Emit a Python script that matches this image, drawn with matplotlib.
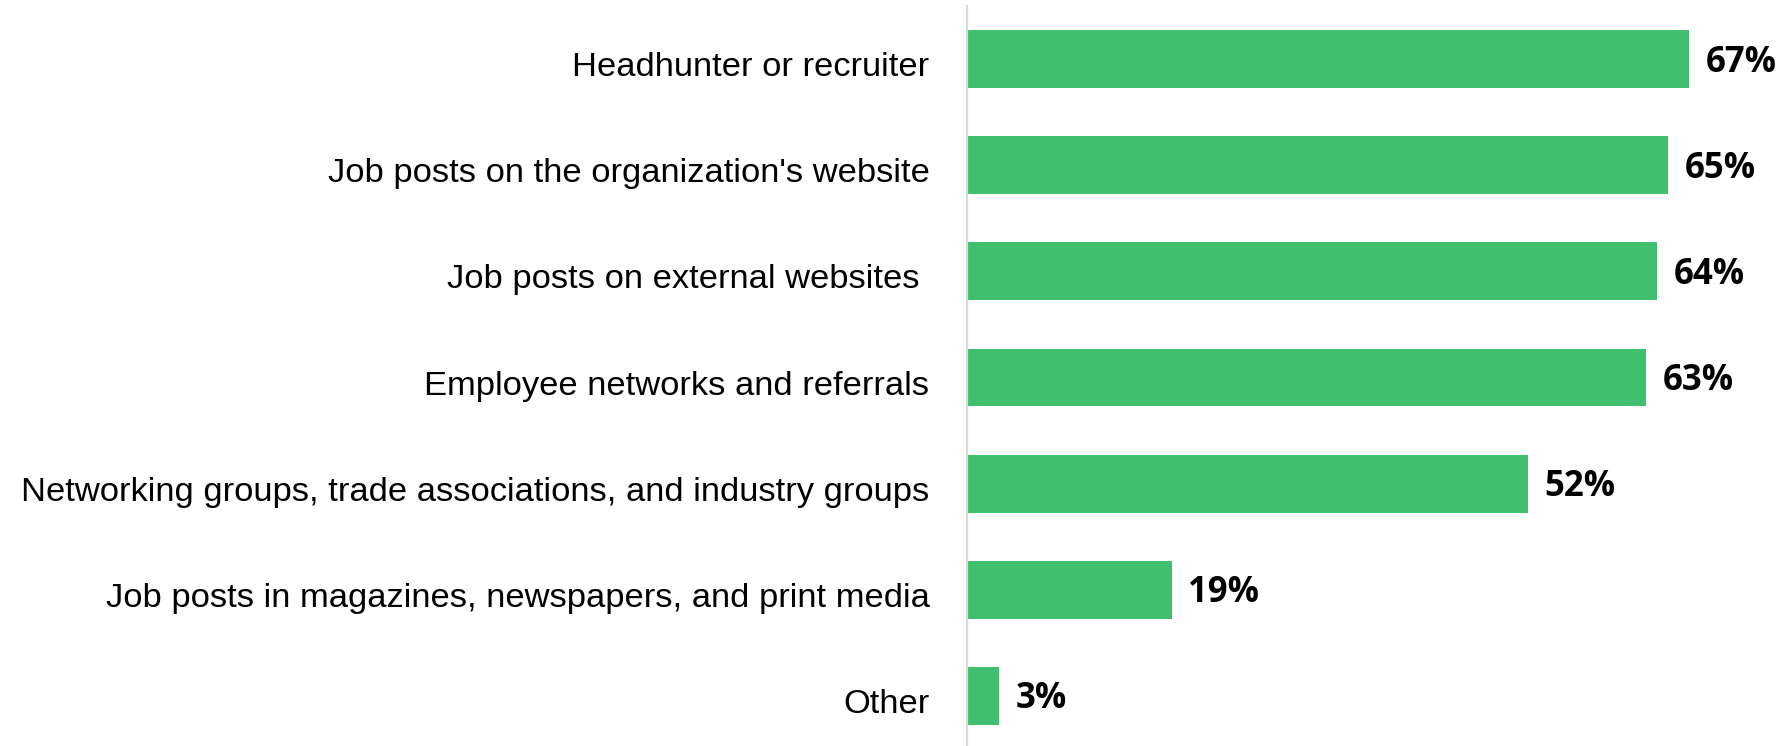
import matplotlib
matplotlib.use("Agg")
import matplotlib.pyplot as plt
import matplotlib.transforms as mtransforms

categories = [
    "Headhunter or recruiter",
    "Job posts on the organization's website",
    "Job posts on external websites ",
    "Employee networks and referrals",
    "Networking groups, trade associations, and industry groups",
    "Job posts in magazines, newspapers, and print media",
    "Other",
]
values = [67, 65, 64, 63, 52, 19, 3]
value_labels = ["67%", "65%", "64%", "63%", "52%", "19%", "3%"]

W, H = 1783, 746
fig = plt.figure(figsize=(W / 100, H / 100), dpi=100)
left_px, top_px, bottom_px = 967, 6, 749
ax = fig.add_axes([left_px / W, 1 - bottom_px / H, (W - left_px) / W, (bottom_px - top_px) / H])

pos = list(range(len(categories)))
ax.barh(pos, values, height=0.546, color="#40BF6E", zorder=2)
ax.set_ylim(len(categories) - 0.5, -0.5)
ax.set_xlim(0, (W - left_px) / 10.78)

for s in ["top", "right", "bottom"]:
    ax.spines[s].set_visible(False)
ax.spines["left"].set_color("#d9d9d9")
ax.spines["left"].set_linewidth(1.6)
ax.set_xticks([])
ax.set_yticks(pos)
ax.set_yticklabels(categories, fontfamily="Liberation Sans", fontsize=24.8, color="black")
ax.tick_params(axis="y", length=0, pad=27)
shift = mtransforms.ScaledTranslation(0, -5 / 100, fig.dpi_scale_trans)
for lbl in ax.get_yticklabels():
    lbl.set_transform(lbl.get_transform() + shift)

for p, v, t in zip(pos, values, value_labels):
    ax.annotate(t, xy=(v, p), xytext=(12, -2.5), textcoords="offset points",
                ha="left", va="center", fontfamily="Open Sans", fontweight="bold",
                fontsize=25, color="black")

fig.savefig("out.png", dpi=100)
